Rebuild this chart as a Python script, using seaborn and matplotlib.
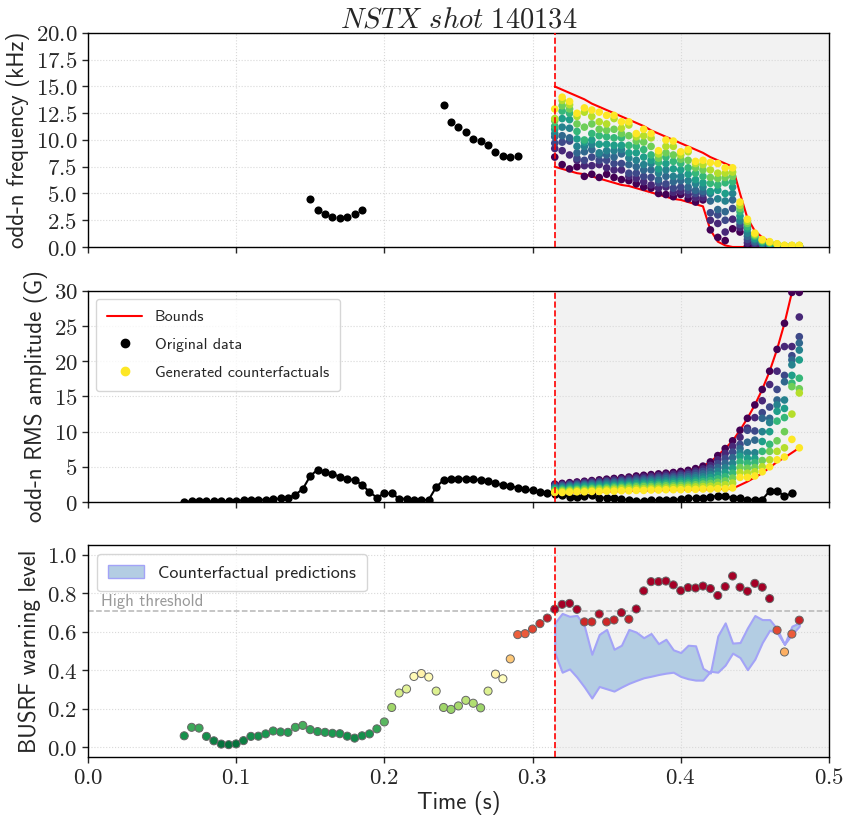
import numpy as np
import pandas as pd
import matplotlib
matplotlib.use("Agg")
import matplotlib.pyplot as plt
from matplotlib.lines import Line2D
from matplotlib.patches import Patch
from matplotlib.ticker import MultipleLocator, FuncFormatter
import seaborn as sns

# ---------------- data ----------------
# sampling grid (5 ms steps)
time_all = np.round(np.arange(0.065, 0.4801, 0.005), 3)   # 84 samples, 0.065 .. 0.480
time_cf = np.round(np.arange(0.315, 0.4801, 0.005), 3)    # 34 samples after the cut
t_cut = 0.315
high_threshold = 0.71

# original odd-n frequency (kHz)
freq_time = [0.15, 0.155, 0.16, 0.165, 0.17, 0.175, 0.18, 0.185,
             0.24, 0.245, 0.25, 0.255, 0.26, 0.265, 0.27, 0.275, 0.28, 0.285, 0.29]
freq_orig = [4.5, 3.5, 3.1, 2.8, 2.7, 2.8, 3.1, 3.5,
             13.3, 11.7, 11.2, 10.7, 10.1, 9.9, 9.5, 8.9, 8.5, 8.4, 8.5]

# original odd-n RMS amplitude (G), 0.065 .. 0.475
amp_orig = [0.05, 0.09, 0.09, 0.09, 0.09, 0.09, 0.14, 0.19, 0.24, 0.33, 0.33, 0.33, 0.38,
            0.52, 0.57, 1.04, 1.85, 3.69, 4.60, 4.27, 3.98, 3.60, 3.32, 3.08, 2.46, 1.42,
            0.62, 1.23, 1.23, 0.47, 0.47, 0.33, 0.24, 0.33, 2.13, 3.13, 3.27, 3.32, 3.32,
            3.22, 3.13, 2.99, 2.65, 2.37, 2.23, 2.04, 1.80, 1.66, 1.47, 1.28, 1.20,
            1.0, 0.76, 0.66, 0.85, 0.95, 0.62, 0.62, 0.62, 0.43, 0.28, 0.19, 0.19, 0.24,
            0.28, 0.28, 0.33, 0.38, 0.52, 0.52, 0.57, 0.71, 0.9, 0.8, 0.62, 0.52, 0.33,
            0.33, 0.33, 1.57, 1.61, 0.81, 1.28]

# BUSRF warning level, 0.065 .. 0.480
warning = [0.06, 0.104, 0.10, 0.057, 0.034, 0.017, 0.014, 0.018, 0.035, 0.057, 0.058, 0.07,
           0.085, 0.08, 0.078, 0.104, 0.114, 0.092, 0.082, 0.078, 0.073, 0.071, 0.058, 0.048,
           0.06, 0.07, 0.096, 0.132, 0.207, 0.282, 0.303, 0.368, 0.383, 0.365, 0.292, 0.207,
           0.197, 0.215, 0.244, 0.229, 0.205, 0.292, 0.38, 0.356, 0.459, 0.585, 0.59, 0.614,
           0.642, 0.671, 0.717,
           0.742, 0.747, 0.716, 0.651, 0.651, 0.692, 0.651, 0.661, 0.699, 0.665, 0.718, 0.812,
           0.860, 0.860, 0.863, 0.843, 0.813, 0.829, 0.827, 0.837, 0.824, 0.788, 0.834, 0.889,
           0.831, 0.810, 0.851, 0.831, 0.772, 0.608, 0.495, 0.588, 0.660]

# bounds of the counterfactual search (one value per time_cf)
freq_upper = [15.0, 14.7, 14.4, 14.1, 13.8, 13.4, 13.1, 12.8, 12.5, 12.2, 11.9, 11.6, 11.3,
              10.9, 10.6, 10.3, 10.0, 9.7, 9.4, 9.1, 8.8, 8.4, 8.1, 7.8, 7.5, 5.0, 2.7, 1.5,
              0.9, 0.5, 0.15, 0.02, 0.0, 0.0]
freq_lower = [7.5, 7.3, 7.1, 6.9, 6.8, 6.6, 6.4, 6.2, 6.0, 5.8, 5.7, 5.5, 5.3, 5.1, 4.9, 4.7,
              4.5, 4.4, 4.2, 4.0, 3.8, 1.6, 0.5, 0.15, 0.0, 0.0, 0.0, 0.0, 0.0, 0.0, 0.0, 0.0,
              0.0, 0.0]
amp_upper = [2.55, 2.65, 2.75, 2.85, 2.95, 3.05, 3.15, 3.25, 3.35, 3.45, 3.55, 3.7, 3.8, 3.9,
             4.0, 4.1, 4.2, 4.35, 4.5, 4.75, 5.1, 5.7, 6.6, 7.6, 8.7, 10.2, 11.9, 13.8, 16.0,
             18.6, 21.7, 25.4, 29.8, 35.0]
amp_lower = [1.3, 1.3, 1.35, 1.4, 1.4, 1.45, 1.45, 1.5, 1.5, 1.55, 1.55, 1.6, 1.6, 1.65, 1.65,
             1.7, 1.7, 1.7, 1.75, 1.75, 1.8, 1.8, 1.85, 1.85, 1.9, 2.4, 2.9, 3.5, 4.1, 4.9,
             5.7, 6.3, 7.0, 7.7]

# counterfactual frequencies: one list per time_cf, ordered purple -> yellow
cf_freq = [
    [8.4, 9.2, 9.7, 10.3, 10.6, 11.0, 11.3, 11.8, 12.0, 12.9],
    [7.7, 9.0, 9.8, 10.4, 11.2, 12.0, 12.7, 13.2, 13.7, 14.0],
    [7.3, 8.6, 9.9, 10.2, 11.1, 11.9, 12.5, 12.9, 13.3, 13.6],
    [7.5, 8.1, 8.3, 8.8, 9.4, 10.1, 10.8, 11.5, 12.2, 12.5],
    [6.6, 7.6, 8.1, 8.9, 9.4, 9.8, 10.0, 11.2, 12.6, 13.0],
    [6.8, 7.6, 8.4, 9.1, 9.6, 10.0, 10.6, 11.5, 12.2, 12.8],
    [6.5, 7.7, 8.1, 8.6, 8.8, 9.6, 10.4, 11.0, 11.7, 12.6],
    [6.8, 7.4, 8.1, 8.6, 9.0, 9.6, 10.3, 10.9, 11.5, 12.3],
    [6.5, 7.2, 7.8, 8.4, 9.0, 9.5, 10.2, 11.0, 12.0, 12.3],
    [6.3, 7.2, 7.8, 8.7, 9.1, 9.5, 10.2, 10.6, 11.1, 11.7],
    [6.2, 6.6, 6.9, 7.7, 8.3, 8.8, 9.5, 10.4, 11.4, 11.7],
    [5.9, 6.4, 6.9, 7.5, 8.1, 8.8, 9.4, 9.9, 10.3, 10.6],
    [5.6, 6.1, 6.6, 7.2, 7.7, 8.4, 9.1, 9.8, 10.4, 11.0],
    [5.5, 5.8, 6.5, 7.2, 7.8, 8.1, 8.6, 9.4, 10.2, 10.6],
    [5.0, 5.5, 6.0, 6.3, 6.9, 7.3, 7.9, 8.3, 8.7, 9.0],
    [4.9, 5.6, 5.9, 6.6, 7.2, 7.8, 8.4, 8.8, 9.4, 10.0],
    [4.7, 5.1, 5.5, 6.1, 6.6, 7.3, 8.0, 8.6, 9.4, 9.9],
    [4.9, 5.2, 5.6, 6.2, 6.6, 7.2, 7.8, 8.2, 8.6, 8.9],
    [4.5, 4.9, 5.3, 5.6, 6.2, 6.8, 7.4, 8.1, 8.9, 9.1],
    [4.2, 4.6, 5.0, 5.3, 5.9, 6.3, 6.9, 7.4, 7.8, 8.0],
    [4.4, 4.6, 5.0, 5.2, 5.6, 6.0, 6.6, 7.2, 7.7, 8.1],
    [1.6, 2.5, 3.2, 4.3, 5.0, 5.2, 5.95, 6.5, 7.2, 7.9],
    [0.9, 2.2, 3.0, 3.5, 4.5, 5.3, 5.8, 6.4, 6.9, 7.8],
    [0.6, 1.4, 2.5, 3.3, 4.3, 5.0, 6.0, 6.5, 6.9, 7.4],
    [1.7, 2.6, 3.6, 4.4, 5.0, 5.6, 6.1, 6.6, 7.0, 7.4],
    [1.4, 1.8, 2.1, 2.4, 2.5, 2.9, 3.3, 3.6, 3.9, 4.2],
    [0.1, 0.4, 0.7, 1.0, 1.3, 1.7, 1.9, 2.2, 2.4, 2.6],
    [0.15, 0.25, 0.4, 0.5, 0.7, 0.8, 1.0, 1.1, 1.2, 1.3],
    [0.1, 0.15, 0.2, 0.3, 0.35, 0.45, 0.5, 0.6, 0.65, 0.7],
    [0.1, 0.12, 0.15, 0.2, 0.25, 0.3, 0.35, 0.4, 0.45, 0.5],
    [0.1, 0.1, 0.12, 0.15, 0.18, 0.2, 0.22, 0.25, 0.28, 0.3],
    [0.05, 0.06, 0.07, 0.08, 0.09, 0.1, 0.11, 0.12, 0.14, 0.16],
    [0.05, 0.06, 0.07, 0.08, 0.09, 0.1, 0.11, 0.12, 0.14, 0.16],
    [0.05, 0.06, 0.07, 0.08, 0.09, 0.1, 0.11, 0.12, 0.14, 0.16],
]

# counterfactual amplitudes: one list per time_cf, ordered purple -> yellow
cf_amp = [
    [2.55, 2.4, 2.25, 2.1, 2.0, 1.85, 1.75, 1.6, 1.45, 1.35],
    [2.65, 2.5, 2.35, 2.2, 2.05, 1.9, 1.8, 1.65, 1.5, 1.35],
    [2.75, 2.6, 2.45, 2.3, 2.15, 2.0, 1.85, 1.7, 1.55, 1.4],
    [2.85, 2.7, 2.55, 2.4, 2.25, 2.1, 1.9, 1.75, 1.6, 1.45],
    [2.95, 2.8, 2.6, 2.45, 2.3, 2.15, 1.95, 1.8, 1.6, 1.45],
    [3.05, 2.9, 2.7, 2.55, 2.35, 2.2, 2.0, 1.85, 1.65, 1.5],
    [3.15, 2.95, 2.8, 2.6, 2.45, 2.25, 2.05, 1.9, 1.7, 1.5],
    [3.25, 3.05, 2.9, 2.7, 2.5, 2.3, 2.1, 1.95, 1.75, 1.55],
    [3.35, 3.15, 2.95, 2.75, 2.55, 2.35, 2.2, 2.0, 1.8, 1.55],
    [3.45, 3.25, 3.05, 2.85, 2.65, 2.45, 2.25, 2.05, 1.85, 1.6],
    [3.55, 3.35, 3.1, 2.9, 2.7, 2.5, 2.3, 2.1, 1.85, 1.6],
    [3.7, 3.45, 3.25, 3.0, 2.8, 2.6, 2.35, 2.15, 1.9, 1.65],
    [3.8, 3.55, 3.3, 3.1, 2.85, 2.65, 2.4, 2.2, 1.9, 1.65],
    [3.9, 3.65, 3.4, 3.15, 2.95, 2.7, 2.45, 2.2, 1.95, 1.7],
    [4.0, 3.75, 3.5, 3.25, 3.0, 2.75, 2.5, 2.25, 1.95, 1.7],
    [4.1, 3.85, 3.6, 3.35, 3.05, 2.8, 2.55, 2.3, 2.0, 1.75],
    [4.2, 3.95, 3.65, 3.4, 3.15, 2.85, 2.6, 2.3, 2.05, 1.75],
    [4.35, 4.05, 3.8, 3.5, 3.2, 2.95, 2.65, 2.35, 2.05, 1.75],
    [4.5, 4.2, 3.9, 3.6, 3.3, 3.0, 2.7, 2.4, 2.1, 1.8],
    [4.75, 4.4, 4.1, 3.75, 3.45, 3.1, 2.8, 2.45, 2.15, 1.8],
    [5.1, 4.7, 4.35, 4.0, 3.6, 3.25, 2.9, 2.55, 2.2, 1.85],
    [5.7, 5.2, 4.8, 4.35, 3.9, 3.5, 3.05, 2.65, 2.25, 1.85],
    [6.6, 6.0, 5.45, 4.9, 4.35, 3.8, 3.3, 2.8, 2.35, 1.9],
    [7.6, 6.9, 6.2, 5.5, 4.85, 4.2, 3.6, 3.0, 2.45, 1.9],
    [8.7, 7.9, 7.1, 6.3, 5.5, 4.8, 4.1, 3.4, 2.7, 2.0],
    [10.2, 9.2, 8.2, 7.6, 7.0, 6.5, 5.7, 4.9, 4.2, 3.5],
    [11.9, 10.5, 10.2, 8.5, 7.0, 6.2, 5.5, 4.8, 4.1, 3.5],
    [13.8, 12.0, 10.1, 8.8, 7.0, 6.2, 5.6, 4.9, 4.3, 3.7],
    [16.0, 14.4, 12.7, 11.9, 10.0, 8.6, 7.2, 5.9, 5.0, 4.3],
    [18.6, 16.7, 13.5, 11.9, 11.3, 10.0, 8.2, 7.2, 6.0, 5.0],
    [21.7, 18.6, 16.0, 14.5, 13.8, 12.9, 11.5, 8.7, 7.2, 6.0],
    [25.4, 22.1, 18.0, 17.1, 14.5, 13.3, 12.0, 10.0, 7.7, 6.4],
    [29.8, 22.1, 20.8, 20.2, 19.5, 18.0, 16.9, 16.4, 12.5, 8.9],
    [29.8, 26.3, 23.5, 22.6, 21.6, 20.2, 17.6, 16.1, 15.5, 7.7],
]

# spread of the model output over the counterfactuals
pred_upper = [0.646, 0.695, 0.680, 0.685, 0.629, 0.483, 0.586, 0.612, 0.509, 0.530, 0.612,
              0.598, 0.569, 0.591, 0.538, 0.561, 0.506, 0.492, 0.530, 0.527, 0.410, 0.386,
              0.578, 0.646, 0.541, 0.544, 0.620, 0.684, 0.663, 0.663, 0.615, 0.535, 0.629,
              0.646]
pred_lower = [0.492, 0.390, 0.407, 0.364, 0.313, 0.256, 0.316, 0.304, 0.292, 0.313, 0.332,
              0.347, 0.361, 0.369, 0.378, 0.385, 0.390, 0.368, 0.356, 0.349, 0.349, 0.395,
              0.390, 0.427, 0.489, 0.466, 0.403, 0.458, 0.544, 0.608, 0.595, 0.535, 0.586,
              0.629]

# ---------------- tidy frames ----------------
n_cf = len(cf_freq[0])
cf_rows = []
for k in range(n_cf):
    for j, t in enumerate(time_cf):
        cf_rows.append({"t": t, "k": k, "freq": cf_freq[j][k], "amp": cf_amp[j][k]})
cf_df = pd.DataFrame(cf_rows)

amp_df = pd.DataFrame({"t": time_all[:len(amp_orig)], "amp": amp_orig})
warn_df = pd.DataFrame({"t": time_all, "warning": warning})

# ---------------- style ----------------
sns.set_theme(style="ticks")
plt.rcParams["font.family"] = ["cmss10", "DejaVu Sans"]
plt.rcParams["mathtext.fontset"] = "cm"
plt.rcParams["axes.unicode_minus"] = False
plt.rcParams["axes.edgecolor"] = "black"
plt.rcParams["axes.linewidth"] = 1.0

fig = plt.figure(figsize=(8.45, 8.16), dpi=100)
left, width = 0.104, 0.877
ax1 = fig.add_axes([left, 0.6973, width, 0.2623])
ax2 = fig.add_axes([left, 0.3848, width, 0.2586], sharex=ax1)
ax3 = fig.add_axes([left, 0.0723, width, 0.2598], sharex=ax1)

shade = "#f2f2f2"
for ax in (ax1, ax2, ax3):
    ax.set_facecolor("white")
    ax.axvspan(t_cut, 0.5, color=shade, zorder=0)
    ax.grid(True, linestyle=":", color="#d9d9d9", linewidth=0.8)
    ax.set_axisbelow(True)
    ax.axvline(t_cut, color="red", linestyle="--", linewidth=1.2, zorder=5)
    ax.tick_params(labelsize=16.5, length=4, width=1)

# top: frequency
sns.scatterplot(x=freq_time, y=freq_orig, color="black", s=34, linewidth=0, ax=ax1, zorder=3)
ax1.plot(time_cf, freq_upper, color="red", lw=1.5, zorder=3)
ax1.plot(time_cf, freq_lower, color="red", lw=1.5, zorder=3)
sns.scatterplot(data=cf_df, x="t", y="freq", hue="k", palette="viridis", s=30,
                linewidth=0, legend=False, ax=ax1, zorder=4)
ax1.set_ylim(0, 20)
ax1.yaxis.set_major_locator(MultipleLocator(2.5))
ax1.yaxis.set_major_formatter(FuncFormatter(lambda v, p: f"${v:.1f}$"))
ax1.set_ylabel("odd-n frequency (kHz)", fontsize=16.5)
ax1.set_title(r"$NSTX\ shot\ \mathrm{140134}$", fontsize=20.5, pad=3)

# middle: amplitude
sns.lineplot(data=amp_df, x="t", y="amp", color="black", lw=1.5, marker="o",
             markersize=6, markeredgewidth=0, ax=ax2, zorder=3)
ax2.plot(time_cf, amp_upper, color="red", lw=1.5, zorder=3)
ax2.plot(time_cf, amp_lower, color="red", lw=1.5, zorder=3)
sns.scatterplot(data=cf_df, x="t", y="amp", hue="k", palette="viridis", s=30,
                linewidth=0, legend=False, ax=ax2, zorder=4)
ax2.set_ylim(0, 30)
ax2.yaxis.set_major_locator(MultipleLocator(5))
ax2.yaxis.set_major_formatter(FuncFormatter(lambda v, p: f"${v:.0f}$"))
ax2.set_ylabel("odd-n RMS amplitude (G)", fontsize=16.5)
handles = [Line2D([], [], color="red", lw=1.5, label="Bounds"),
           Line2D([], [], color="black", marker="o", ls="none", markersize=6, label="Original data"),
           Line2D([], [], color="#fde725", marker="o", ls="none", markersize=6,
                  label="Generated counterfactuals")]
ax2.legend(handles=handles, loc="upper left", fontsize=11.5, frameon=True,
           edgecolor="#cccccc", fancybox=True, borderpad=0.7, labelspacing=0.85,
           handlelength=2.2)

# bottom: warning level
ax3.fill_between(time_cf, pred_lower, pred_upper, facecolor="#b3cde3",
                 edgecolor="#a3a3f7", linewidth=1.5, zorder=2)
ax3.axhline(high_threshold, color="#b5b5b5", linestyle="--", linewidth=1.1, zorder=1)
ax3.text(0.009, high_threshold + 0.01, "High threshold", color="#999999", fontsize=12,
         va="bottom", ha="left")
sns.scatterplot(data=warn_df, x="t", y="warning", hue="warning", palette="RdYlGn_r",
                hue_norm=(0, high_threshold), s=34, edgecolor="#666666", linewidth=0.7,
                legend=False, ax=ax3, zorder=4)
ax3.set_ylim(-0.05, 1.05)
ax3.yaxis.set_major_locator(MultipleLocator(0.2))
ax3.yaxis.set_major_formatter(FuncFormatter(lambda v, p: f"${v:.1f}$"))
ax3.set_ylabel("BUSRF warning level", fontsize=16.5)
ax3.legend(handles=[Patch(facecolor="#b3cde3", edgecolor="#a3a3f7",
                          label="Counterfactual predictions")],
           loc="upper left", fontsize=13, frameon=True, edgecolor="#cccccc", borderpad=0.6)

ax3.set_xlim(0, 0.5)
ax3.xaxis.set_major_locator(MultipleLocator(0.1))
ax3.xaxis.set_major_formatter(FuncFormatter(lambda v, p: f"${v:.1f}$"))
ax3.set_xlabel("Time (s)", fontsize=16.5, labelpad=1)
for ax in (ax1, ax2):
    ax.set_xlabel("")
    plt.setp(ax.get_xticklabels(), visible=False)

fig.savefig("out.png", dpi=100)
